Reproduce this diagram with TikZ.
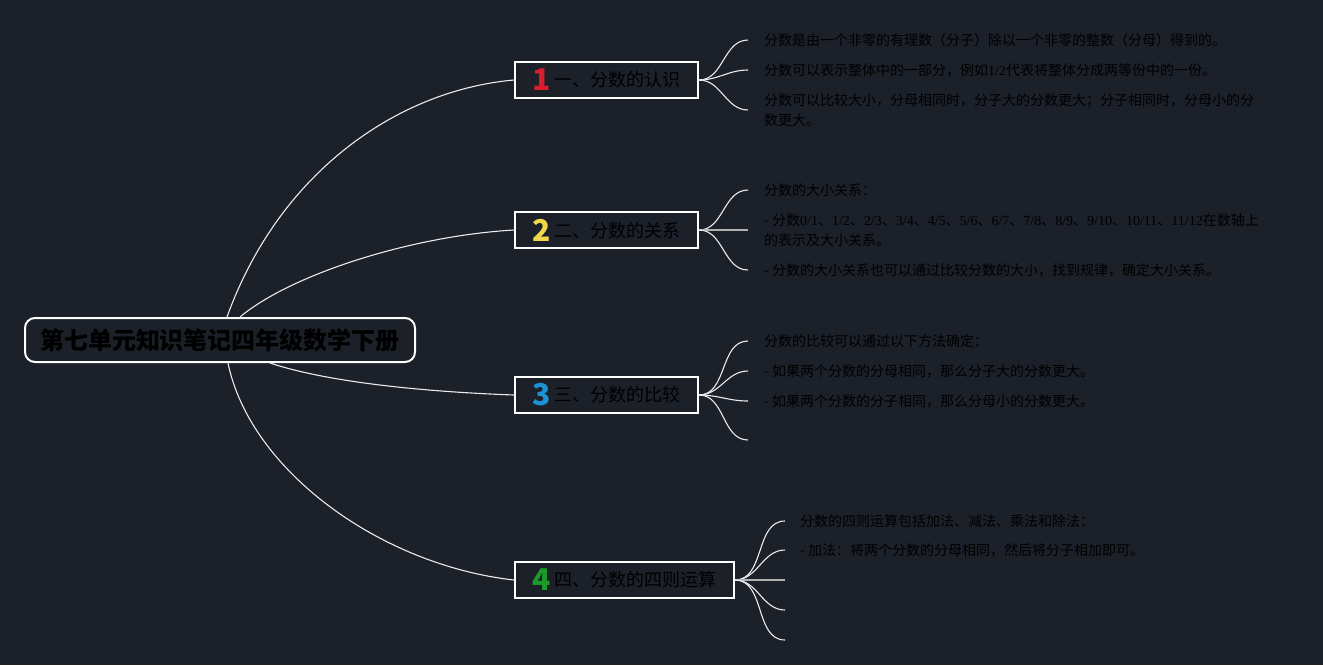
\documentclass[tikz,border=0pt]{standalone}
\usepackage{fontspec}
\setmainfont{Noto Sans CJK SC}
\newfontfamily\latin{Liberation Serif}
\usepackage{tikz}
\usetikzlibrary{calc}
\definecolor{bgC}{RGB}{28,32,41}
\definecolor{redC}{RGB}{216,30,44}
\definecolor{yellowC}{RGB}{242,214,75}
\definecolor{blueC}{RGB}{29,147,214}
\definecolor{greenC}{RGB}{27,154,43}
\newcommand{\numT}[2]{\raisebox{-4pt}{\color{#1}\fontsize{30}{30}\selectfont\bfseries #2}}
\newcommand{\lat}[1]{{\latin #1}}

\begin{document}
\begin{tikzpicture}[
        x=1pt, y=-1pt,
        defaultS/.style={
            line width=2pt,
            fill=bgC,
            draw=white,
            text=black,
            inner ysep=0pt
        },
        rootS/.style={
            defaultS,
            rectangle,
            rounded corners=10pt,
            minimum width=390pt,
            minimum height=44pt,
            font=\fontsize{24}{24}\selectfont\bfseries
        },
        boxS/.style={
            defaultS,
            rectangle,
            minimum height=36pt,
            font=\fontsize{18}{18}\selectfont
        },
        leafS/.style={
            anchor=west,
            inner xsep=16pt,
            inner ysep=0pt,
            align=left,
            text=black,
            font=\fontsize{14}{20}\selectfont
        },
        lineS/.style={draw=white!92!black, line width=1.1pt},
        midS/.style={draw=white!70!black, line width=2.2pt},
    ]

    \fill[bgC] (0,0) rectangle (1323,665);
    \useasboundingbox (0,0) rectangle (1323,665);

	\node[rootS] (R) at (220,340) {第七单元知识笔记四年级数学下册};

	\node[boxS, minimum width=183pt] (B1) at (606.5,80) {\numT{redC}{1} 一、分数的认识};
	\node[boxS, minimum width=183pt] (B2) at (606.5,230) {\numT{yellowC}{2} 二、分数的关系};
	\node[boxS, minimum width=183pt] (B3) at (606.5,395) {\numT{blueC}{3} 三、分数的比较};
	\node[boxS, minimum width=219pt] (B4) at (624.5,580) {\numT{greenC}{4} 四、分数的四则运算};

	\draw[lineS] ([xshift=7pt]R.north) .. controls (280,170) and (400,90) .. (B1.west);
	\draw[lineS] ([xshift=20pt]R.north) .. controls (290,275) and (410,236) .. (B2.west);
	\draw[lineS] ([xshift=50pt]R.south) .. controls (330,383) and (430,392) .. (B3.west);
	\draw[lineS] ([xshift=8pt]R.south) .. controls (250,470) and (380,565) .. (B4.west);

	\node[leafS] (L11) at (748,40) {分数是由一个非零的有理数（分子）除以一个非零的整数（分母）得到的。};
	\node[leafS] (L12) at (748,70) {分数可以表示整体中的一部分，例如\lat{1/2}代表将整体分成两等份中的一份。};
	\node[leafS] (L13) at (748,110) {分数可以比较大小，分母相同时，分子大的分数更大；分子相同时，分母小的分\\数更大。};

	\node[leafS] (L21) at (748,190) {分数的大小关系：};
	\node[leafS] (L22) at (748,230) {- 分数\lat{0/1}、\lat{1/2}、\lat{2/3}、\lat{3/4}、\lat{4/5}、\lat{5/6}、\lat{6/7}、\lat{7/8}、\lat{8/9}、\lat{9/10}、\lat{10/11}、\lat{11/12}在数轴上\\的表示及大小关系。};
	\node[leafS] (L23) at (748,270) {- 分数的大小关系也可以通过比较分数的大小，找到规律，确定大小关系。};

	\node[leafS] (L31) at (748,341) {分数的比较可以通过以下方法确定：};
	\node[leafS] (L32) at (748,371) {- 如果两个分数的分母相同，那么分子大的分数更大。};
	\node[leafS] (L33) at (748,401) {- 如果两个分数的分子相同，那么分母小的分数更大。};
	\coordinate (L34) at (748,440);

	\node[leafS, inner xsep=15pt] (L41) at (785,521) {分数的四则运算包括加法、减法、乘法和除法：};
	\node[leafS, inner xsep=15pt] (L42) at (785,550) {- 加法：将两个分数的分母相同，然后将分子相加即可。};
	\coordinate (L43) at (785,580);
	\coordinate (L44) at (785,610);
	\coordinate (L45) at (785,640);

	\draw[lineS] (B1.east) to[out=0,in=180] (L11.west);
	\draw[lineS] (B1.east) to[out=0,in=180] (L12.west);
	\draw[lineS] (B1.east) to[out=0,in=180] (L13.west);

	\draw[lineS] (B2.east) to[out=0,in=180] (L21.west);
	\draw[midS] (B2.east) -- (L22.west);
	\draw[lineS] (B2.east) to[out=0,in=180] (L23.west);

	\draw[lineS] (B3.east) to[out=0,in=180] (L31.west);
	\draw[lineS] (B3.east) to[out=0,in=180] (L32.west);
	\draw[lineS] (B3.east) to[out=0,in=180] (L33.west);
	\draw[lineS] (B3.east) to[out=0,in=180] (L34);

	\draw[lineS] (B4.east) to[out=0,in=180] (L41.west);
	\draw[lineS] (B4.east) to[out=0,in=180] (L42.west);
	\draw[midS] (B4.east) -- (L43);
	\draw[lineS] (B4.east) to[out=0,in=180] (L44);
	\draw[lineS] (B4.east) to[out=0,in=180] (L45);

\end{tikzpicture}
\end{document}
